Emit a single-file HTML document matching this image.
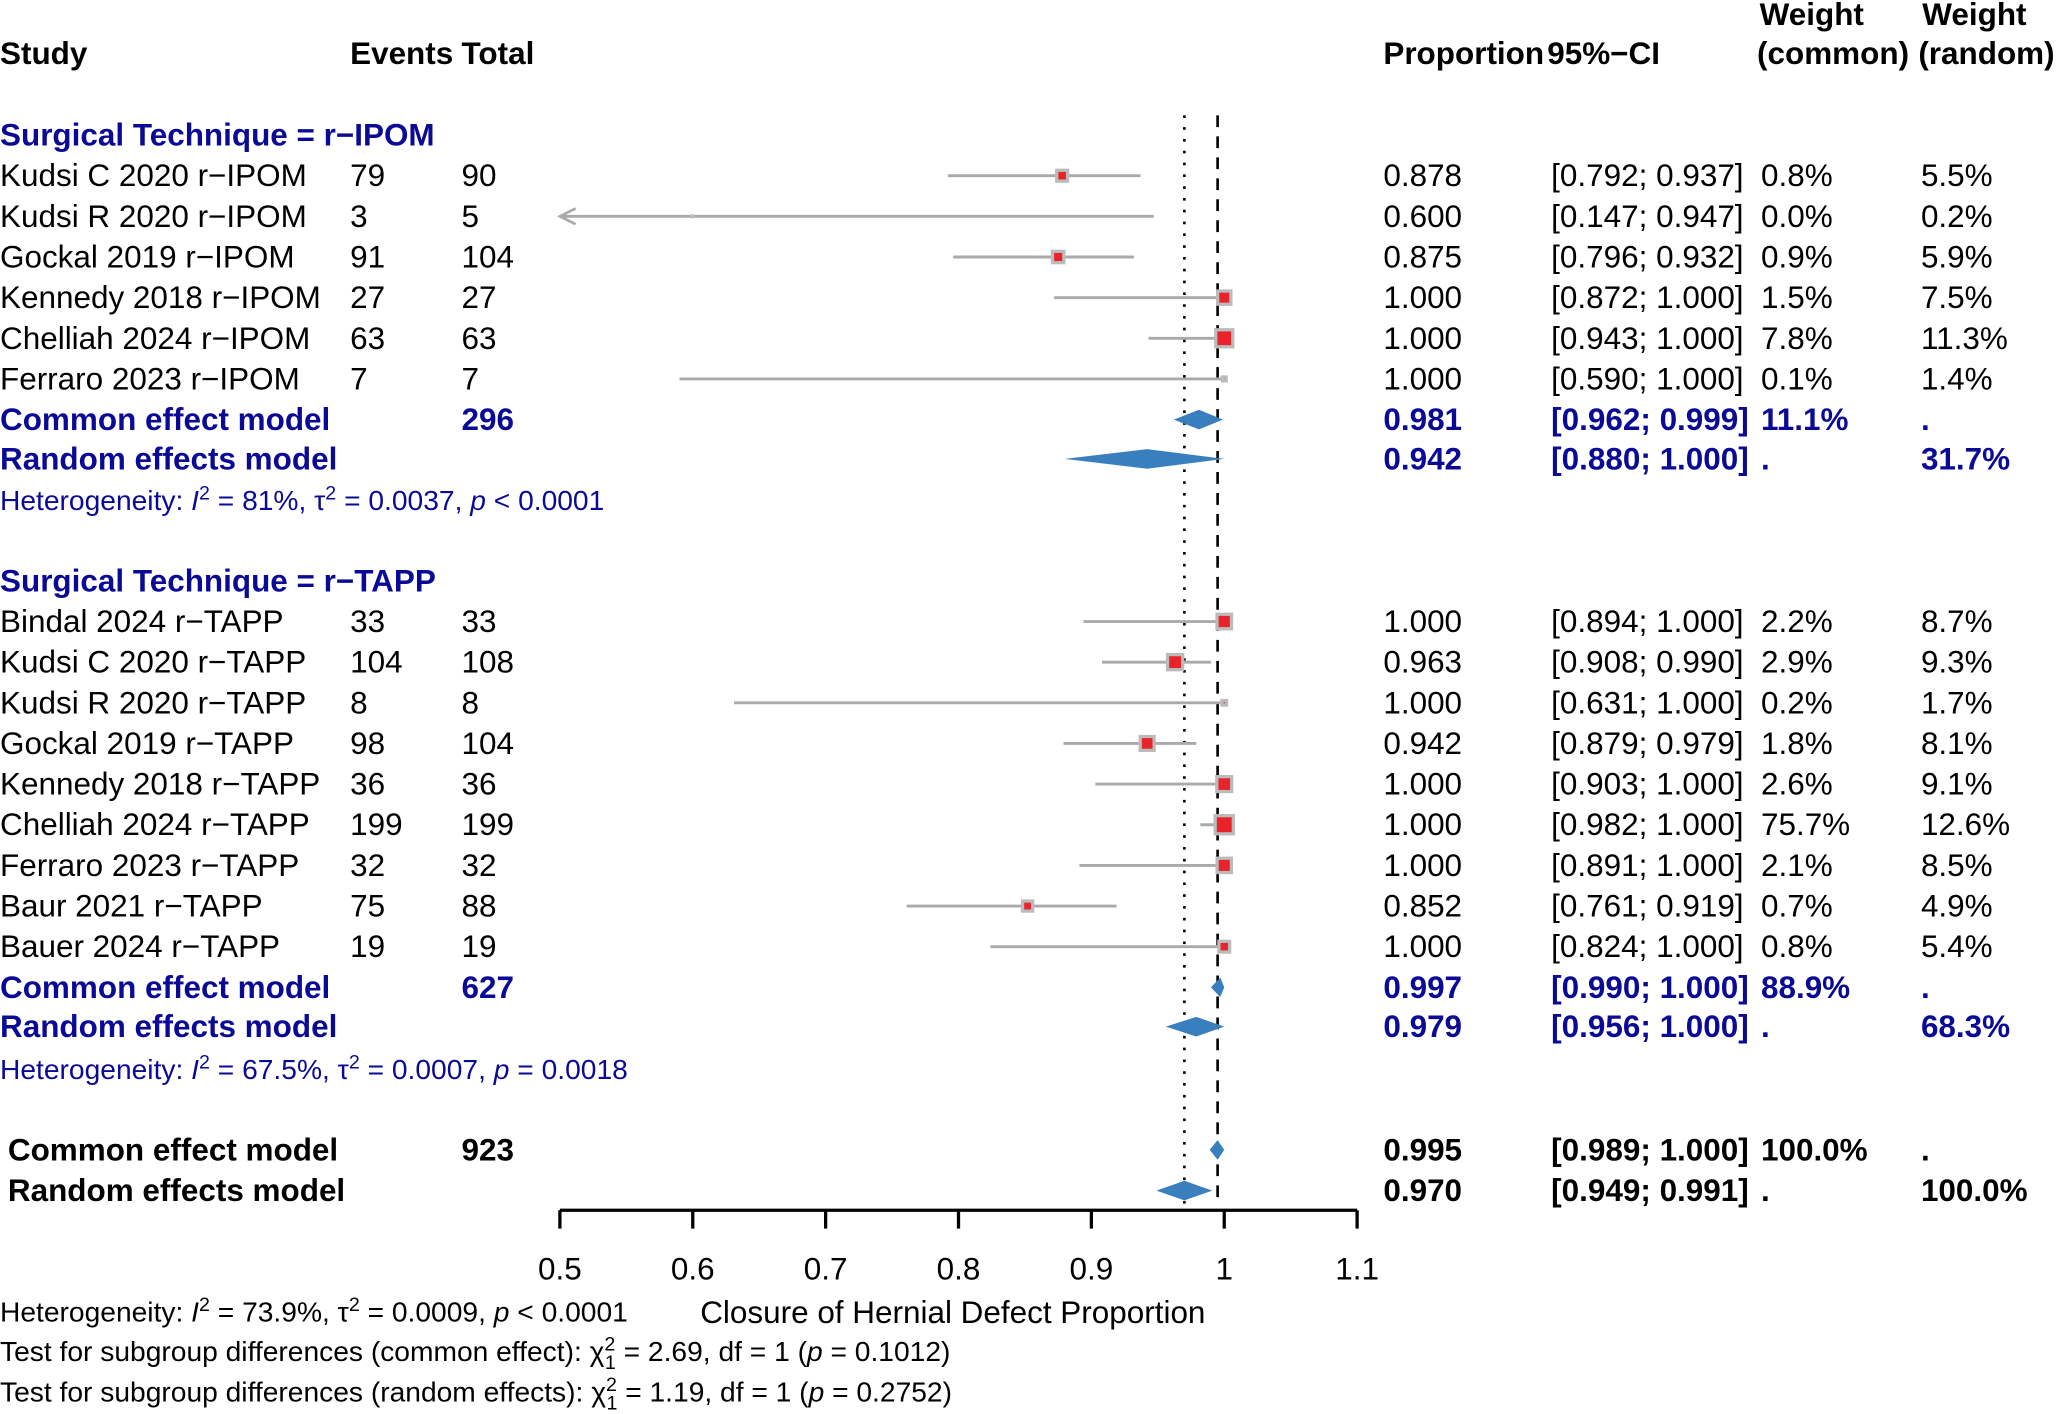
<!DOCTYPE html>
<html><head><meta charset="utf-8"><style>
html,body{margin:0;padding:0;background:#fff}
svg{display:block}
text{font-family:"Liberation Sans",Arial,sans-serif;font-size:24px;fill:#000}
.b{font-weight:bold}
.bl{fill:#0a0a96}
.h{font-size:21.5px;fill:#0a0a96}
</style></head><body>
<svg id="chart" width="2056" height="1414" viewBox="0 0 1568 1078.4" preserveAspectRatio="none" xmlns="http://www.w3.org/2000/svg">
<g>
<text class="b" x="0" y="49">Study</text>
<text class="b" x="267" y="49">Events</text>
<text class="b" x="352" y="49">Total</text>
<text class="b" x="1055" y="49">Proportion</text>
<text class="b" x="1180" y="49">95%−CI</text>
<text class="b" x="1342" y="19">Weight</text>
<text class="b" x="1340" y="49">(common)</text>
<text class="b" x="1466" y="19">Weight</text>
<text class="b" x="1463" y="49">(random)</text>
</g>
<g id="marks"></g>
<g id="texts"></g>
<g>
<text class="h" style="fill:#000" x="0" y="1008">Heterogeneity: <tspan font-style="italic">I</tspan><tspan font-size="15" dy="-8">2</tspan><tspan dy="8"> = 73.9%, τ</tspan><tspan font-size="15" dy="-8">2</tspan><tspan dy="8"> = 0.0009, </tspan><tspan font-style="italic">p</tspan> &lt; 0.0001</text>
<text x="534" y="1009">Closure of Hernial Defect Proportion</text>
<text class="h" style="fill:#000" x="0" y="1038">Test for subgroup differences (common effect): χ<tspan font-size="15" dy="-8">2</tspan><tspan font-size="15" dx="-8" dy="14">1</tspan><tspan dy="-6"> = 2.69, df = 1 (</tspan><tspan font-style="italic">p</tspan> = 0.1012)</text>
<text class="h" style="fill:#000" x="0" y="1069">Test for subgroup differences (random effects): χ<tspan font-size="15" dy="-8">2</tspan><tspan font-size="15" dx="-8" dy="14">1</tspan><tspan dy="-6"> = 1.19, df = 1 (</tspan><tspan font-style="italic">p</tspan> = 0.2752)</text>
</g>
</svg>
<script>
const studies=["Kudsi C 2020 r−IPOM","Kudsi R 2020 r−IPOM","Gockal 2019 r−IPOM","Kennedy 2018 r−IPOM","Chelliah 2024 r−IPOM","Ferraro 2023 r−IPOM","Bindal 2024 r−TAPP","Kudsi C 2020 r−TAPP","Kudsi R 2020 r−TAPP","Gockal 2019 r−TAPP","Kennedy 2018 r−TAPP","Chelliah 2024 r−TAPP","Ferraro 2023 r−TAPP","Baur 2021 r−TAPP","Bauer 2024 r−TAPP"];
const groups=[0,0,0,0,0,0,1,1,1,1,1,1,1,1,1];
const events=[79,3,91,27,63,7,33,104,8,98,36,199,32,75,19];
const totals=[90,5,104,27,63,7,33,108,8,104,36,199,32,88,19];
const est=[0.878,0.600,0.875,1.000,1.000,1.000,1.000,0.963,1.000,0.942,1.000,1.000,1.000,0.852,1.000];
const lo=[0.792,0.147,0.796,0.872,0.943,0.590,0.894,0.908,0.631,0.879,0.903,0.982,0.891,0.761,0.824];
const hi=[0.937,0.947,0.932,1.000,1.000,1.000,1.000,0.990,1.000,0.979,1.000,1.000,1.000,0.919,1.000];
const wCommon=["0.8%","0.0%","0.9%","1.5%","7.8%","0.1%","2.2%","2.9%","0.2%","1.8%","2.6%","75.7%","2.1%","0.7%","0.8%"];
const wRandom=[5.5,0.2,5.9,7.5,11.3,1.4,8.7,9.3,1.7,8.1,9.1,12.6,8.5,4.9,5.4];
const groupNames=["Surgical Technique = r−IPOM","Surgical Technique = r−TAPP"];
const groupTotals=[296,627];
const modelEst=[[0.981,0.962,0.999],[0.942,0.880,1.000],[0.997,0.990,1.000],[0.979,0.956,1.000],[0.995,0.989,1.000],[0.970,0.949,0.991]];
const modelWC=["11.1%",".","88.9%",".","100.0%","."];
const modelWR=[".","31.7%",".","68.3%",".","100.0%"];
const hetParts=[["81%","0.0037","<","0.0001"],["67.5%","0.0007","=","0.0018"]];
const ticks=[0.5,0.6,0.7,0.8,0.9,1,1.1];

const NS="http://www.w3.org/2000/svg";
const X0=427,X1=1035,VMIN=0.5,VMAX=1.1;
function xs(v){return X0+(v-VMIN)/(VMAX-VMIN)*(X1-X0);}
function el(tag,attrs,parent){const e=document.createElementNS(NS,tag);for(const k in attrs)e.setAttribute(k,attrs[k]);parent.appendChild(e);return e;}
const M=document.getElementById('marks'),T=document.getElementById('texts');
function txt(s,x,y,cls){const t=el('text',{x:x,y:y+8},T);if(cls)t.setAttribute('class',cls);t.textContent=s;return t;}

const rowY=[];let y=134;
for(let i=0;i<6;i++){rowY.push(y);y+=31;}
y=474;for(let i=6;i<15;i++){rowY.push(y);y+=31;}
const modelY=[320,350,753,783,877,908];
const headY=[103,443], hetY=[382,816];

let l=el('line',{x1:xs(modelEst[4][0]),x2:xs(modelEst[4][0]),y1:88,y2:918,stroke:'#000','stroke-width':2,'stroke-dasharray':'9,7'},M);


l=el('line',{x1:xs(modelEst[5][0]),x2:xs(modelEst[5][0]),y1:88,y2:918,stroke:'#000','stroke-width':2,'stroke-dasharray':'2,7'},M);



let ax=el('line',{x1:X0,x2:X1,y1:923,y2:923,stroke:'#000','stroke-width':2.5},M);


ticks.forEach(t=>{
  const tk=el('line',{x1:xs(t),x2:xs(t),y1:923,y2:937,stroke:'#000','stroke-width':2.5},M);
  
  
  const tl=el('text',{x:xs(t),y:976,'text-anchor':'middle'},T);
  
  
  tl.textContent=String(t);
});

groupNames.forEach((g,i)=>{
  const t=txt(g,0,headY[i],'b bl');
  
  
  const p=hetParts[i];
  const h=el('text',{x:0,y:hetY[i]+7,class:'h'},T);
  
  
  h.innerHTML='Heterogeneity: <tspan font-style="italic">I</tspan><tspan font-size="15" dy="-8">2</tspan><tspan dy="8"> = '+p[0]+', τ</tspan><tspan font-size="15" dy="-8">2</tspan><tspan dy="8"> = '+p[1]+', </tspan><tspan font-style="italic">p</tspan> '+(p[2]=='<'?'&lt;':'=')+' '+p[3];
});

studies.forEach((s,i)=>{
  const yy=rowY[i];
  const g=el('g',{},M);
  
  
  const x1=Math.max(xs(lo[i]),X0),x2=xs(hi[i]);
  el('line',{x1:x1,x2:x2,y1:yy,y2:yy,stroke:'#aaa','stroke-width':2.2},g);
  if(lo[i]<VMIN){el('path',{d:`M${X0+12},${yy-6} L${X0},${yy} L${X0+12},${yy+6}`,fill:'none',stroke:'#aaa','stroke-width':2},g);}
  const sz=Math.max(3,4.6*Math.sqrt(wRandom[i]));
  const cx=xs(est[i]);
  el('rect',{x:cx-sz/2,y:yy-sz/2,width:sz,height:sz,fill:'#bbb'},g);
  if(sz>5)el('rect',{x:cx-sz/2+2.5,y:yy-sz/2+2.5,width:sz-5,height:sz-5,fill:'#e8232a'},g);
  const cols=[[s,0],[String(events[i]),267],[String(totals[i]),352],[est[i].toFixed(3),1055],['['+lo[i].toFixed(3)+'; '+hi[i].toFixed(3)+']',1183],[wCommon[i],1343],[wRandom[i].toFixed(1)+'%',1465]];
  cols.forEach(c=>{const t=txt(c[0],c[1],yy);
    
    });
});

const modelNames=["Common effect model","Random effects model"];
modelEst.forEach((m,i)=>{
  const yy=modelY[i];const overall=i>=4;
  const cls=overall?'b':'b bl';
  const xOff=overall?6:0;
  const cells=[[modelNames[i%2],xOff],[i%2==0?String(i==4?923:groupTotals[i/2]):'',352],[m[0].toFixed(3),1055],['['+m[1].toFixed(3)+'; '+m[2].toFixed(3)+']',1183],[modelWC[i],1343],[modelWR[i],1465]];
  cells.forEach(c=>{if(!c[0])return;const t=txt(c[0],c[1],yy,cls);
    
    });
  const d=el('polygon',{points:`${xs(m[1])},${yy} ${xs(m[0])},${yy-7.5} ${xs(m[2])},${yy} ${xs(m[0])},${yy+7.5}`,fill:'#3a7fbd'},M);
  
  
});
</script>
</body></html>
